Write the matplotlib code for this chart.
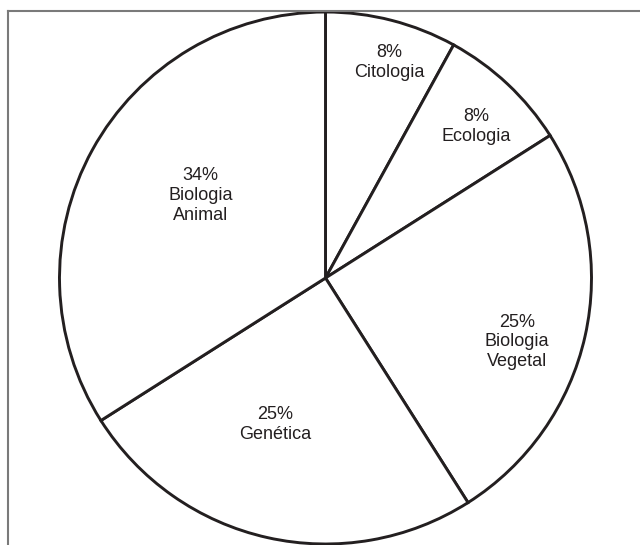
import matplotlib
matplotlib.use("Agg")
import matplotlib.pyplot as plt
from matplotlib.lines import Line2D

plt.rcParams['font.family'] = ['Liberation Sans', 'DejaVu Sans']

# Distribution of topics (percent), clockwise from 12 o'clock
categories = ["Citologia", "Ecologia", "Biologia\nVegetal", "Genética", "Biologia\nAnimal"]
values = [8, 8, 25, 25, 34]

# Label anchor offsets from the pie centre (in radius units)
label_pos = [(0.24, 0.81), (0.565, 0.57), (0.72, -0.24), (-0.19, -0.55), (-0.47, 0.31)]

W, H, DPI = 640, 545, 100
fig = plt.figure(figsize=(W / DPI, H / DPI), dpi=DPI)
ax = fig.add_axes([0, 0, 1, 1])

R_PX = 266.0
CX, CY = 325.5, 278.0  # centre in pixels (y measured from top)

ink = "#231f20"
ax.pie(values, startangle=90, counterclock=False, radius=1.0, center=(0, 0),
       colors=["white"] * len(values),
       wedgeprops=dict(edgecolor=ink, linewidth=2.1), frame=False)
ax.set_xlim(-CX / R_PX, (W - CX) / R_PX)
ax.set_ylim(-(H - CY) / R_PX, CY / R_PX)
ax.set_aspect("auto")
ax.axis("off")

for cat, val, (lx, ly) in zip(categories, values, label_pos):
    ax.text(lx, ly, f"{val}%\n{cat}", ha="center", va="center",
            fontsize=13, color=ink, linespacing=1.2)

# Thin grey frame on the top and left edges
gray = "#7a7a7a"
fx = 8 / W
fy = 1 - 11 / H
fig.add_artist(Line2D([fx, 1], [fy, fy], transform=fig.transFigure, color=gray, lw=1.5))
fig.add_artist(Line2D([fx, fx], [0, fy], transform=fig.transFigure, color=gray, lw=1.5))

fig.savefig("out.png", dpi=DPI, facecolor="white")
